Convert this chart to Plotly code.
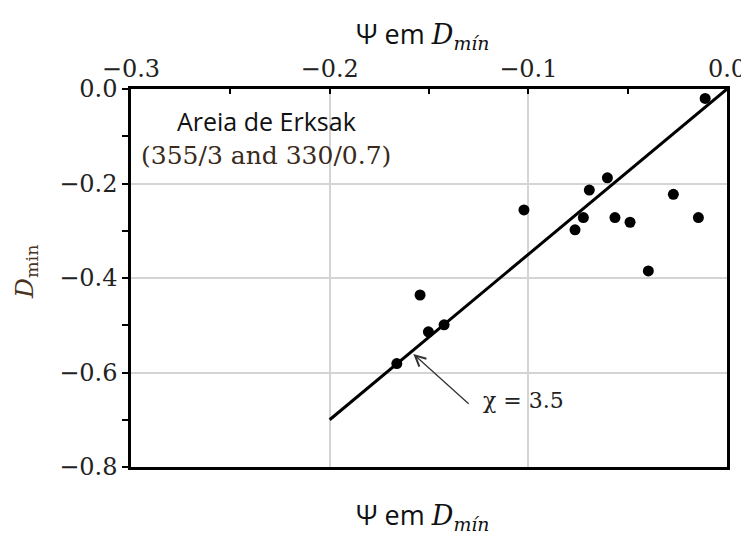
import plotly.graph_objects as go

# Data
psi = [-0.011, -0.0602, -0.0693, -0.1022, -0.0270, -0.0723, -0.0765, -0.0564,
       -0.0488, -0.0144, -0.0396, -0.1545, -0.1424, -0.1503, -0.1662]
dmin = [-0.020, -0.188, -0.214, -0.256, -0.223, -0.272, -0.298, -0.272,
        -0.282, -0.272, -0.385, -0.436, -0.499, -0.514, -0.581]
chi = 3.5
line_x = [-0.2, 0.0]
line_y = [chi * v for v in line_x]

x_ticks = [-0.3, -0.2, -0.1, 0.0]
y_ticks = [0.0, -0.2, -0.4, -0.6, -0.8]

SERIF = "DejaVu Serif"
SANS = "Open Sans"
TXT = "#222222"

fig = go.Figure()
fig.add_trace(go.Scatter(x=line_x, y=line_y, mode="lines",
                         line=dict(color="black", width=3), showlegend=False,
                         hoverinfo="skip"))
fig.add_trace(go.Scatter(x=psi, y=dmin, mode="markers",
                         marker=dict(color="black", size=11), showlegend=False))

fig.update_layout(
    width=749, height=537,
    margin=dict(l=123, r=30, t=81, b=78),
    paper_bgcolor="white", plot_bgcolor="white",
    showlegend=False,
)
fig.update_xaxes(
    range=[-0.3, 0.0], side="top", tickvals=x_ticks, automargin=False,
    ticktext=["\u22120.3", "\u22120.2", "\u22120.1", "0.0"],
    ticks="inside", ticklen=5, tickwidth=1.5, tickcolor="black",
    minor=dict(dtick=0.05, ticks="inside", ticklen=5, tickwidth=1.5,
               tickcolor="black", showgrid=False),
    showgrid=True, gridcolor="#d4d4d4", gridwidth=2,
    showline=True, linecolor="black", linewidth=2.5, mirror=True,
    zeroline=False,
    tickfont=dict(family=SERIF, size=24, color=TXT),
)
fig.update_yaxes(
    range=[-0.8, 0.0], tickvals=y_ticks, automargin=False,
    ticktext=["0.0", "\u22120.2", "\u22120.4", "\u22120.6", "\u22120.8"],
    ticks="outside", ticklen=6, tickwidth=1.5, tickcolor="black",
    minor=dict(dtick=0.1, ticks="outside", ticklen=6, tickwidth=1.5,
               tickcolor="black", showgrid=False),
    showgrid=True, gridcolor="#d4d4d4", gridwidth=2,
    showline=True, linecolor="black", linewidth=2.5, mirror=True,
    zeroline=False,
    tickfont=dict(family=SERIF, size=24, color=TXT),
)

title_txt = ("\u03a8 em <span style='font-family:\"DejaVu Serif\"'><i>D</i>"
             "<sub><i>mín</i></sub></span>")
for yy in (1.145, -0.128):
    fig.add_annotation(xref="paper", yref="paper", x=0.49, y=yy,
                       xanchor="center", yanchor="middle",
                       text=title_txt, showarrow=False,
                       font=dict(family=SANS, size=27, color="#111111"))

fig.add_annotation(xref="paper", yref="paper", x=-0.176, y=0.516,
                   xanchor="center", yanchor="middle",
                   text="<i>D</i><sub>min</sub>", textangle=-90, showarrow=False,
                   font=dict(family=SERIF, size=25, color="#4a3322"))

fig.add_annotation(x=-0.232, y=-0.068, text="Areia de Erksak", showarrow=False,
                   xanchor="center", yanchor="middle",
                   font=dict(family=SANS, size=25, color="#111111"))
fig.add_annotation(x=-0.232, y=-0.140, text="(355/3 and 330/0.7)", showarrow=False,
                   xanchor="center", yanchor="middle",
                   font=dict(family=SERIF, size=25, color="#3a2a20"))
fig.add_annotation(x=-0.1022, y=-0.660, text="\u03c7 = 3.5", showarrow=False,
                   xanchor="center", yanchor="middle",
                   font=dict(family=SERIF, size=22, color="#222222"))
fig.add_annotation(x=-0.1579, y=-0.561, ax=-0.1293, ay=-0.669,
                   axref="x", ayref="y", text="", showarrow=True,
                   arrowhead=5, arrowsize=1.6, arrowwidth=1.3, arrowcolor="#333333")

fig.write_html("out.html")
